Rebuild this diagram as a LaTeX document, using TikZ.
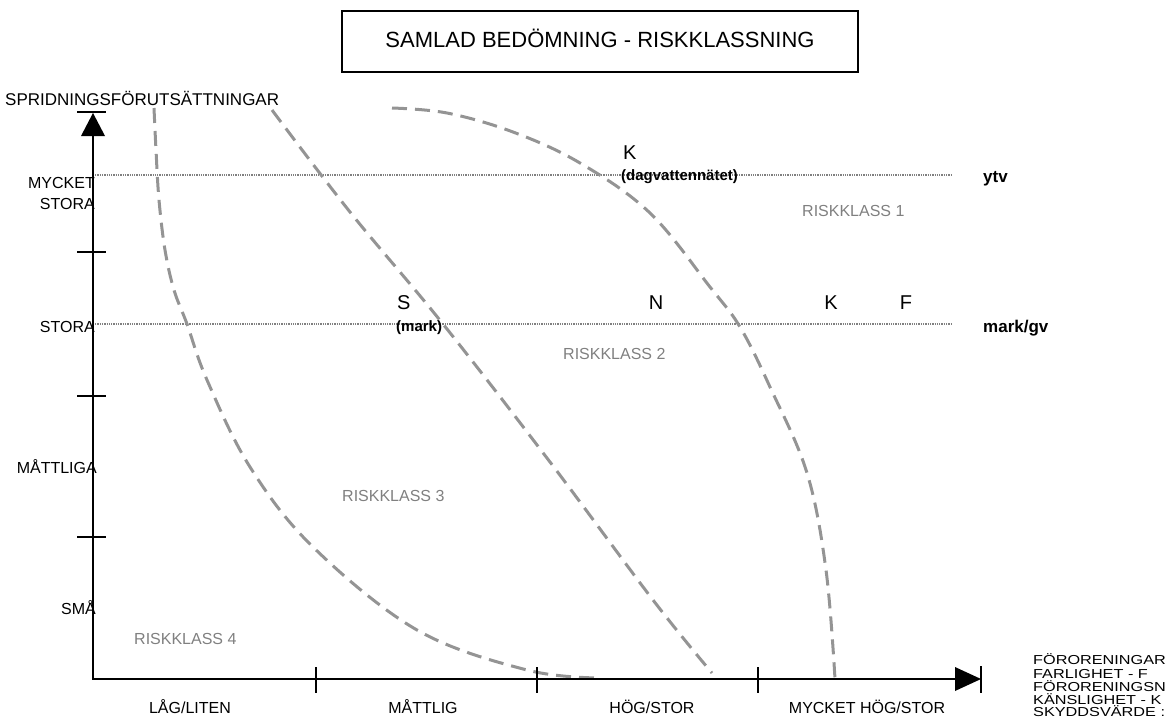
\documentclass[tikz,border=0pt]{standalone}
\usepackage{fontspec}
\setmainfont{Liberation Sans}
\begin{document}
\begin{tikzpicture}[x=1pt,y=-1pt,
  axisline/.style={line width=2pt,black},
  tickline/.style={line width=2pt,black},
  guide/.style={black!50,line width=1.4pt,dash pattern=on 1.3pt off 1pt},
  zoneb/.style={black!42,line width=3pt,dash pattern=on 15pt off 8pt},
  lbl/.style={font=\fontsize{16}{16}\selectfont,inner sep=0pt},
  cls/.style={font=\fontsize{16}{16}\selectfont,text=black!50,inner sep=0pt},
  big/.style={font=\fontsize{20}{20}\selectfont,inner sep=0pt},
  bld/.style={font=\bfseries\fontsize{15}{15}\selectfont,inner sep=0pt},
  leg/.style={font=\fontsize{13}{13}\selectfont,inner sep=0pt,anchor=base west}
]
\useasboundingbox (0,0) rectangle (1173,717);

% title
\draw[line width=1.3pt] (342,11) rectangle (858,72);
\node[font=\fontsize{22}{22}\selectfont,inner sep=0pt,anchor=base] (title) at (600,48) {SAMLAD BEDÖMNING - RISKKLASSNING};

% guide lines
\draw[guide] (95,175) -- (952,175);
\draw[guide] (95,324) -- (952,324);

% zone borders
\draw[zoneb] plot[smooth,tension=0.6] coordinates {(154,108) (156,150) (159,200) (165,250) (174,290) (187,324) (207,380) (250,467) (313,547) (417,630) (527,670) (600,678)};
\draw[zoneb] plot[smooth,tension=0.6] coordinates {(272,110) (350,212) (443,324) (550,462) (653,600) (712,673)};
\draw[zoneb] plot[smooth,tension=0.6] coordinates {(392,108) (447,113) (513,132) (580,163) (650,213) (710,287) (740,327) (770,387) (807,473) (826,570) (835,679)};

% axes
\draw[axisline] (93,133) -- (93,679) -- (956,679);
\fill (93,113) -- (105,136) -- (81,136) -- cycle;
\fill (981,679) -- (955,667) -- (955,691) -- cycle;
\draw[tickline] (77,112) -- (106,112);
\draw[tickline] (981,666) -- (981,693);
\foreach \yy in {252,396,537} \draw[tickline] (77,\yy) -- (106,\yy);
\foreach \xx in {316,537,758} \draw[tickline] (\xx,667) -- (\xx,693);

% y labels
\node[lbl,font=\fontsize{17}{17}\selectfont,anchor=base west] (yax) at (5,106) {SPRIDNINGSFÖRUTSÄTTNINGAR};
\node[lbl,anchor=base east] (y1a) at (95,188) {MYCKET};
\node[lbl,anchor=base east] (y1b) at (95,209) {STORA};
\node[lbl,anchor=base east] (y2) at (95,332) {STORA};
\node[lbl,anchor=base east] (y3) at (97,473) {MÅTTLIGA};
\node[lbl,anchor=base east] (y4) at (96,614) {SMÅ};

% x labels
\node[lbl,anchor=base] (x1) at (190,713) {LÅG/LITEN};
\node[lbl,anchor=base] (x2) at (423,713) {MÅTTLIG};
\node[lbl,anchor=base] (x3) at (652,713) {HÖG/STOR};
\node[lbl,anchor=base] (x4) at (867,713) {MYCKET HÖG/STOR};

% legend (as far as the picture shows it)
\node[leg] (l1) at (1033,664) {\scalebox{1.25}[1]{FÖRORENINGAR}};
\node[leg] (l2) at (1033,678) {\scalebox{1.25}[1]{FARLIGHET - F}};
\node[leg] (l3) at (1033,691) {\scalebox{1.25}[1]{FÖRORENINGSN}};
\node[leg] (l4) at (1033,704) {\scalebox{1.25}[1]{KÄNSLIGHET - K}};
\node[leg] (l5) at (1033,716) {\scalebox{1.25}[1]{SKYDDSVÄRDE :}};

% risk classes
\node[cls,anchor=base west] (r1) at (802,216) {RISKKLASS 1};
\node[cls,anchor=base west] (r2) at (563,359) {RISKKLASS 2};
\node[cls,anchor=base west] (r3) at (342,501) {RISKKLASS 3};
\node[cls,anchor=base west] (r4) at (134,644) {RISKKLASS 4};

% markers
\node[big,anchor=base west] (ktop) at (623,159) {K};
\node[bld,anchor=base west] (kdag) at (621,180) {(dagvattennätet)};
\node[big,anchor=base west] (s) at (397,309) {S};
\node[bld,anchor=base west] (smark) at (396,331) {(mark)};
\node[big,anchor=base] (n) at (656,309) {N};
\node[big,anchor=base] (k) at (831,309) {K};
\node[big,anchor=base] (f) at (906,309) {F};

\node[bld,font=\bfseries\fontsize{17}{17}\selectfont,anchor=base west] (ytv) at (983,182) {ytv};
\node[bld,font=\bfseries\fontsize{17}{17}\selectfont,anchor=base west] (mgv) at (983,332) {mark/gv};
\end{tikzpicture}
\end{document}
